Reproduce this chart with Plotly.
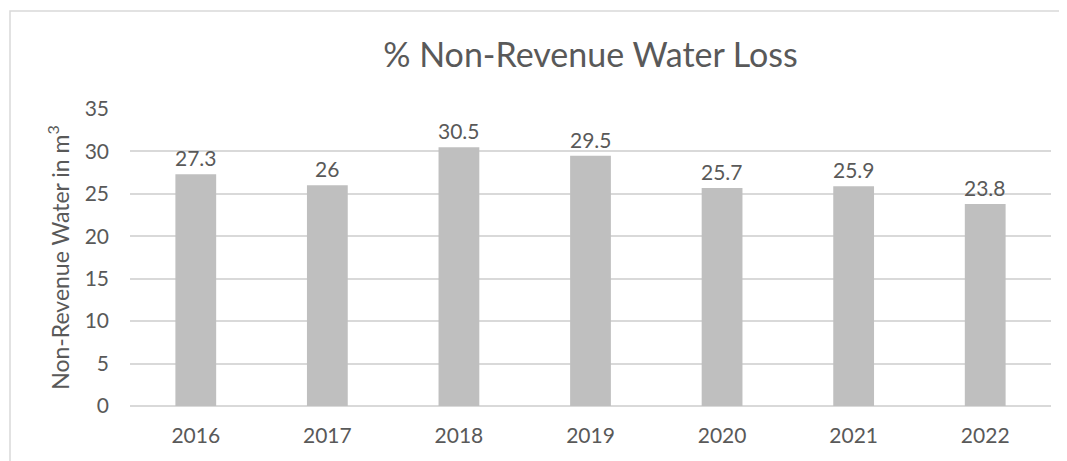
import plotly.graph_objects as go

years = ["2016", "2017", "2018", "2019", "2020", "2021", "2022"]
nrw_values = [27.3, 26, 30.5, 29.5, 25.7, 25.9, 23.8]
value_labels = ["27.3", "26", "30.5", "29.5", "25.7", "25.9", "23.8"]
y_ticks = [0, 5, 10, 15, 20, 25, 30, 35]

TEXT = "#595959"
GRID = "#D9D9D9"
FONT = "Lato, Calibri, 'Open Sans', sans-serif"

# the page body adds an 8px offset; the figure is sized/margined to compensate
W, H = 1059, 453
L, R, T, B = 122, 16, 101, 55

fig = go.Figure()
fig.add_trace(go.Bar(
    x=years, y=nrw_values,
    marker=dict(color="#BFBFBF", line=dict(width=0)),
    hoverinfo="skip",
))

# data labels (category index positions on the category axis)
for i, (v, lab) in enumerate(zip(nrw_values, value_labels)):
    fig.add_annotation(x=i, y=v, text=lab, showarrow=False, xref="x", yref="y",
                       yanchor="bottom", yshift=2,
                       font=dict(size=21, color=TEXT, family=FONT))

fig.update_layout(
    width=W, height=H,
    margin=dict(l=L, r=R, t=T, b=B),
    paper_bgcolor="white", plot_bgcolor="white",
    bargap=0.69,
    showlegend=False,
    font=dict(family=FONT, color=TEXT, size=21),
    title=dict(text="% Non-Revenue Water Loss", x=0.5, xref="paper", xanchor="center",
               y=1 - 47 / H, yref="container", yanchor="middle",
               font=dict(size=34, color=TEXT, family=FONT)),
    xaxis=dict(type="category", categoryorder="array", categoryarray=years,
               range=[-0.5, len(years) - 0.5],
               showgrid=False, showline=False, ticks="", zeroline=False,
               tickfont=dict(size=21, color=TEXT), ticklabelstandoff=15),
    yaxis=dict(range=[0, 35], tickvals=y_ticks, showgrid=True, gridcolor=GRID, gridwidth=1.5,
               zeroline=True, zerolinecolor=GRID, zerolinewidth=1.5, showline=False, ticks="",
               tickfont=dict(size=21, color=TEXT), ticklabelstandoff=20,
               title=dict(text="Non-Revenue Water in m<sup>3</sup>", standoff=8,
                          font=dict(size=23, color=TEXT))),
)

# outer chart border (cut off at right and bottom like the reference)
fig.add_shape(type="rect", xref="paper", yref="paper",
              x0=(2 - L) / 921, x1=1.2, y0=-0.5, y1=(398 - 3) / 297,
              line=dict(color=GRID, width=1.5), fillcolor="rgba(0,0,0,0)", layer="below")

fig.write_html("out.html")
